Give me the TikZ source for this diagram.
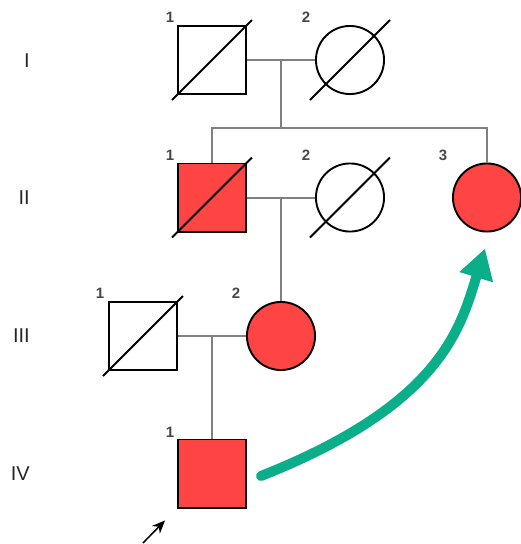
\documentclass[tikz,border=0pt]{standalone}
\usepackage{fontspec}
\setmainfont{Liberation Sans}
\usetikzlibrary{arrows.meta}
\definecolor{affred}{RGB}{255,68,68}
\definecolor{conngray}{RGB}{128,128,128}
\definecolor{arrowgreen}{RGB}{10,175,138}
\begin{document}
\begin{tikzpicture}[x=1pt,y=-1pt,
  male/.style={rectangle,draw=black,line width=1.9pt,minimum size=68.1pt,inner sep=0pt},
  female/.style={circle,draw=black,line width=1.9pt,minimum size=68.1pt,inner sep=0pt},
  affected/.style={fill=affred},
  rel/.style={draw=conngray,line width=2pt},
  slashline/.style={draw=black,line width=1.9pt},
  num/.style={font=\fontsize{15}{15}\selectfont\bfseries,text=black!72,inner sep=0pt},
  gen/.style={font=\fontsize{20}{20}\selectfont,text=black!85,inner sep=0pt,anchor=east},
  bigarrow/.style={draw=arrowgreen,line width=10pt,line cap=round,-{Triangle[length=30pt,width=33pt]}},
  proband/.style={draw=black,line width=1.5pt,-{Stealth[length=13pt,width=11pt]}}
]
\useasboundingbox (0,0) rectangle (521,544);

% generation labels
\node[gen] (gI) at (30,61) {I};
\node[gen] (gII) at (30,198) {II};
\node[gen] (gIII) at (30,336) {III};
\node[gen] (gIV) at (30,474) {IV};

% individuals
\node[male] (I1) at (212,60) {};
\node[female] (I2) at (350,60) {};
\node[male,affected] (II1) at (212,197.5) {};
\node[female] (II2) at (350,197.5) {};
\node[female,affected] (II3) at (487,197.5) {};
\node[male] (III1) at (143,336) {};
\node[female,affected] (III2) at (281,336) {};
\node[male,affected] (IV1) at (212,473.5) {};

% numbers
\node[num] (nI1) at (170,17) {1};
\node[num] (nI2) at (306,17) {2};
\node[num] (nII1) at (170,155) {1};
\node[num] (nII2) at (306,155) {2};
\node[num] (nII3) at (443,155) {3};
\node[num] (nIII1) at (100,293) {1};
\node[num] (nIII2) at (236,293) {2};
\node[num] (nIV1) at (170,432) {1};

% connectors
\coordinate (m1) at (281,60);
\coordinate (sib) at (281,128);
\coordinate (m2) at (281,197.5);
\coordinate (m3) at (212,336);
\draw[rel] (I1) -- (I2);
\draw[rel] (m1) -- (sib);
\draw[rel] (II1.north) |- (sib) -| (II3.north);
\draw[rel] (II1) -- (II2);
\draw[rel] (m2) -- (III2.north);
\draw[rel] (III1) -- (III2);
\draw[rel] (m3) -- (IV1.north);

% deceased slashes
\foreach \n in {I1,I2,II1,II2,III1}{
  \draw[slashline] ([shift={(-40,40)}]\n.center) -- ([shift={(40,-40)}]\n.center);
}

% green arrow
\coordinate (gs) at ([shift={(14,2.5)}]IV1.east);
\coordinate (ge) at ([shift={(-2,16)}]II3.south);
\draw[bigarrow] (gs) .. controls (440,405) and (460,330) .. (ge);

% proband arrow
\coordinate (ps) at (143,543);
\coordinate (pe) at ([shift={(-12,12)}]IV1.south west);
\draw[proband] (ps) -- (pe);
\end{tikzpicture}
\end{document}
